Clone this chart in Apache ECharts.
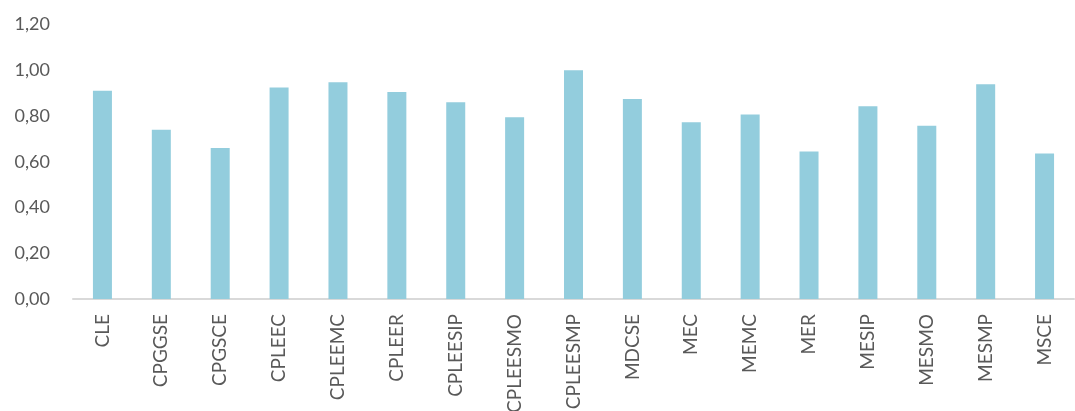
<!DOCTYPE html>
<html>
<head>
<meta charset="utf-8">
<script src="https://cdn.jsdelivr.net/npm/echarts@6/dist/echarts.min.js"></script>
<style>html,body{margin:0;padding:0;background:#fff}#c{width:1075px;height:411px}</style>
</head>
<body>
<div id="c"></div>
<script>
const categories = ['CLE','CPGGSE','CPGSCE','CPLEEC','CPLEEMC','CPLEER','CPLEESIP','CPLEESMO','CPLEESMP','MDCSE','MEC','MEMC','MER','MESIP','MESMO','MESMP','MSCE'];
const values = [0.91,0.74,0.66,0.925,0.947,0.905,0.86,0.794,1.00,0.874,0.773,0.807,0.645,0.843,0.757,0.939,0.636];
const yTicks = {min:0, max:1.2, interval:0.2};

const chart = echarts.init(document.getElementById('c'));
chart.setOption({
  animation:false,
  grid:{left:73, right:1, top:24.5, bottom:112, containLabel:false, outerBoundsMode:'none'},
  xAxis:{
    type:'category', data:categories,
    axisLine:{lineStyle:{color:'#d9d9d9', width:2}},
    axisTick:{show:false},
    axisLabel:{rotate:90, color:'#595959', fontFamily:'Lato', fontSize:19, margin:15, interval:0}
  },
  yAxis:{
    type:'value', min:yTicks.min, max:yTicks.max, interval:yTicks.interval,
    splitLine:{show:false}, axisLine:{show:false}, axisTick:{show:false},
    axisLabel:{color:'#595959', fontFamily:'Lato', fontSize:18, margin:23,
      formatter:v=>v.toFixed(2).replace('.',',')}
  },
  series:[{type:'bar', data:values, barWidth:19, itemStyle:{color:'#93CDDD'}}]
});
</script>
</body>
</html>
